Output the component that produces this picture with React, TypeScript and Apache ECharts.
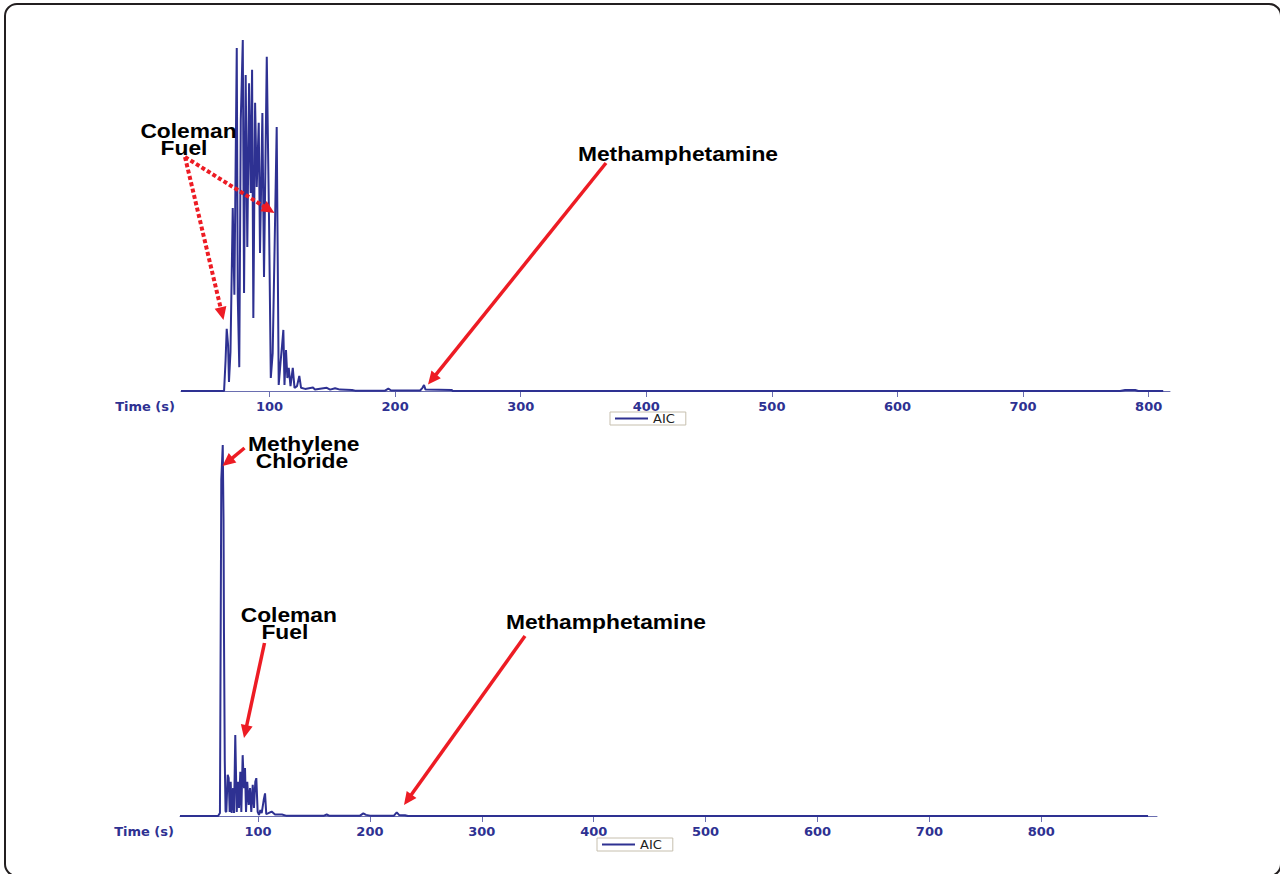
import React, { useEffect, useRef } from "react";
import * as echarts from "echarts";

// ---- data (time in s, relative abundance 0-100) ----
const topTimes = [
  29.5, 63.8, 65.0, 65.9, 67.0, 67.7, 68.9, 70.7, 72.0, 73.9, 74.7, 75.9, 77.1, 78.7, 79.7,
  81.0, 82.3, 83.7, 85.0, 86.1, 87.1, 88.5, 89.8, 91.4, 92.4, 94.3, 95.6, 97.8, 99.6, 101.0,
  102.5, 104.0, 105.7, 107.3, 108.8, 110.0, 111.0, 111.9, 113.1, 114.2, 115.3, 116.7, 118.5,
  119.9, 121.9, 123.7, 125.1, 128.3, 134.6, 136.2, 145.6, 148.2, 152.2, 156.1, 165.7, 168.1,
  192.0, 194.6, 196.8, 219.9, 221.8, 223.0, 224.2, 245.1, 245.7, 777.3, 781.3, 789.3, 791.7, 811.6,
];
const topSignal = [
  0, 0, 8.8, 17.7, 13.1, 2.6, 11.1, 52.1, 27.4, 97.7, 26.8, 6.8, 77.2, 100, 27.9,
  90.0, 41.0, 87.7, 56.4, 91.5, 20.8, 82.1, 58.1, 76.4, 39.3, 79.2, 32.5, 95.2, 48.7, 3.7,
  10.8, 40.2, 75.2, 1.7, 8.3, 13.1, 17.4, 1.7, 11.7, 3.7, 6.6, 1.4, 6.6,
  0.9, 1.4, 4.3, 0.9, 0.6, 1.0, 0.4, 0.9, 0.4, 0.8, 0.4, 0.3, 0.1,
  0.1, 0.7, 0.15, 0.15, 0.9, 1.7, 0.4, 0.3, 0, 0, 0.3, 0.3, 0, 0,
];

const bottomTimes = [
  30.3, 64.3, 66.0, 67.2, 68.5, 69.2, 69.6, 70.3, 71.0, 71.7, 72.9, 73.8, 74.7, 75.6, 76.5,
  77.7, 78.6, 79.7, 81.0, 82.1, 83.0, 84.2, 85.1, 86.3, 87.5, 88.4, 89.3, 90.4, 91.7, 92.9,
  94.0, 95.3, 96.4, 97.6, 98.5, 99.7, 100.9, 102.1, 103.3, 105.1, 106.3, 107.4, 108.9, 112.2,
  115.2, 121.4, 125.0, 159.0, 161.4, 163.5, 191.2, 194.1, 196.5, 200.1, 221.5, 224.0, 226.0,
  231.4, 234.0, 895.4,
];
const bottomSignal = [
  0, 0, 0.8, 90.6, 100, 79.8, 49.3, 15.1, 1.3, 1.1, 11.1, 10.2, 1.1, 9.2, 0.8,
  7.5, 0.8, 21.8, 1.1, 9.2, 2.2, 11.9, 1.1, 16.4, 7.5, 12.9, 1.1, 9.2, 3.0, 7.5,
  1.1, 8.4, 2.2, 9.2, 10.2, 1.1, 0.3, 1.6, 0.8, 4.3, 6.1, 0.5, 0.7, 1.2,
  0.4, 0.4, 0.1, 0.1, 0.4, 0.1, 0.1, 0.7, 0.3, 0.1, 0.1, 1.0, 0.3,
  0.2, 0, 0,
];

const tickValues = [100, 200, 300, 400, 500, 600, 700, 800];
const seriesName = "AIC";
const axisTitle = "Time (s)";

const topRange = [29.5, 817];
const bottomRange = [30.3, 903.4];

// ---- styles ----
const BLUE = "#2e3192";
const AXIS_BLUE = "#6a6eb0";
const RED = "#ed1c24";
const LABEL_FONT = "DejaVu Sans";
const NOTE_FONT = 'bold 20px "Liberation Sans", Arial, sans-serif';
const NOTE_STRETCH = 1.14;

function arrow(x1: number, y1: number, x2: number, y2: number, dashed: boolean) {
  const dx = x2 - x1;
  const dy = y2 - y1;
  const len = Math.hypot(dx, dy);
  const ux = dx / len;
  const uy = dy / len;
  const headLen = 13;
  const headHalf = 6;
  const bx = x2 - ux * headLen;
  const by = y2 - uy * headLen;
  const px = -uy;
  const py = ux;
  return [
    {
      type: "line",
      shape: { x1, y1, x2: bx + ux * 2, y2: by + uy * 2 },
      style: {
        stroke: RED,
        lineWidth: dashed ? 4 : 3.5,
        lineDash: dashed ? [4, 2.5] : null,
      },
      z: 10,
    },
    {
      type: "polygon",
      shape: {
        points: [
          [x2, y2],
          [bx + px * headHalf, by + py * headHalf],
          [bx - px * headHalf, by - py * headHalf],
        ],
      },
      style: { fill: RED },
      z: 10,
    },
  ];
}

function note(text: string, cx: number, baseline: number) {
  return {
    type: "text",
    z: 10,
    x: cx,
    y: baseline - 7,
    scaleX: NOTE_STRETCH,
    style: {
      text,
      x: 0,
      y: 0,
      font: NOTE_FONT,
      fill: "#000",
      textAlign: "center",
      textVerticalAlign: "middle",
    },
  };
}

function pairs(t: number[], v: number[]) {
  return t.map((x, i) => [x, v[i]]);
}

function xAxisFor(gridIndex: number, range: number[]) {
  return {
    type: "value",
    gridIndex,
    min: range[0],
    max: range[1],
    name: axisTitle,
    nameLocation: "start",
    nameGap: 6,
    nameTextStyle: {
      fontFamily: LABEL_FONT,
      fontWeight: "bold",
      fontSize: 13,
      color: BLUE,
      verticalAlign: "top",
      padding: [9, 0, 0, 0],
    },
    axisLine: { show: true, lineStyle: { color: AXIS_BLUE, width: 1 } },
    axisTick: {
      show: true,
      length: 6,
      customValues: tickValues,
      lineStyle: { color: AXIS_BLUE, width: 1 },
    },
    axisLabel: {
      customValues: tickValues,
      margin: 9,
      fontFamily: LABEL_FONT,
      fontWeight: "bold",
      fontSize: 13,
      color: BLUE,
    },
    splitLine: { show: false },
  };
}

function legendFor(left: number, top: number) {
  return {
    data: [{ name: seriesName, icon: "rect" }],
    left,
    top,
    itemWidth: 33,
    itemHeight: 2,
    padding: [0, 11, 0, 5],
    borderColor: "#c6bfae",
    borderWidth: 1,
    selectedMode: false,
    textStyle: { fontFamily: LABEL_FONT, fontSize: 13, color: "#222", lineHeight: 13 },
  };
}

export default function App() {
  const ref = useRef<HTMLDivElement>(null);
  useEffect(() => {
    if (!ref.current) return;
    const chart = echarts.init(ref.current, null, { renderer: "svg" });
    const option: any = {
      animation: false,
      backgroundColor: "#ffffff",
      grid: [
        { left: 181, right: 110, top: 40, height: 351 },
        { left: 180, right: 123, top: 445, height: 371 },
      ],
      xAxis: [xAxisFor(0, topRange), xAxisFor(1, bottomRange)],
      yAxis: [
        { type: "value", gridIndex: 0, min: 0, max: 100, show: false },
        { type: "value", gridIndex: 1, min: 0, max: 100, show: false },
      ],
      legend: [legendFor(610, 412), legendFor(597, 838)],
      series: [
        {
          name: seriesName,
          type: "line",
          xAxisIndex: 0,
          yAxisIndex: 0,
          symbol: "none",
          showSymbol: false,
          clip: false,
          lineStyle: { color: BLUE, width: 2 },
          itemStyle: { color: BLUE },
          data: pairs(topTimes, topSignal),
          z: 3,
        },
        {
          name: seriesName,
          type: "line",
          xAxisIndex: 1,
          yAxisIndex: 1,
          symbol: "none",
          showSymbol: false,
          clip: false,
          lineStyle: { color: BLUE, width: 2 },
          itemStyle: { color: BLUE },
          data: pairs(bottomTimes, bottomSignal),
          z: 3,
        },
      ],
      graphic: [
        {
          type: "rect",
          shape: { x: 5, y: 4, width: 1276, height: 872, r: 12 },
          style: { fill: "none", stroke: "#231f20", lineWidth: 2 },
          z: 20,
        },
        note("Coleman", 188.5, 138),
        note("Fuel", 184, 155),
        note("Methamphetamine", 678, 161),
        note("Methylene", 303.8, 451),
        note("Chloride", 302, 468),
        note("Coleman", 288.8, 622),
        note("Fuel", 284.8, 639),
        note("Methamphetamine", 606, 629.5),
        ...arrow(185, 157, 223.5, 320, true),
        ...arrow(185, 157, 274.5, 213, true),
        ...arrow(606, 163, 428, 384.5, false),
        ...arrow(244.5, 448, 222.5, 466, false),
        ...arrow(264.5, 643, 244, 738, false),
        ...arrow(525, 636, 404, 805, false),
      ],
    };
    chart.setOption(option);
    return () => chart.dispose();
  }, []);
  return (
    <div
      ref={ref}
      style={{ position: "fixed", left: 0, top: 0, width: 1280, height: 874 }}
    />
  );
}
